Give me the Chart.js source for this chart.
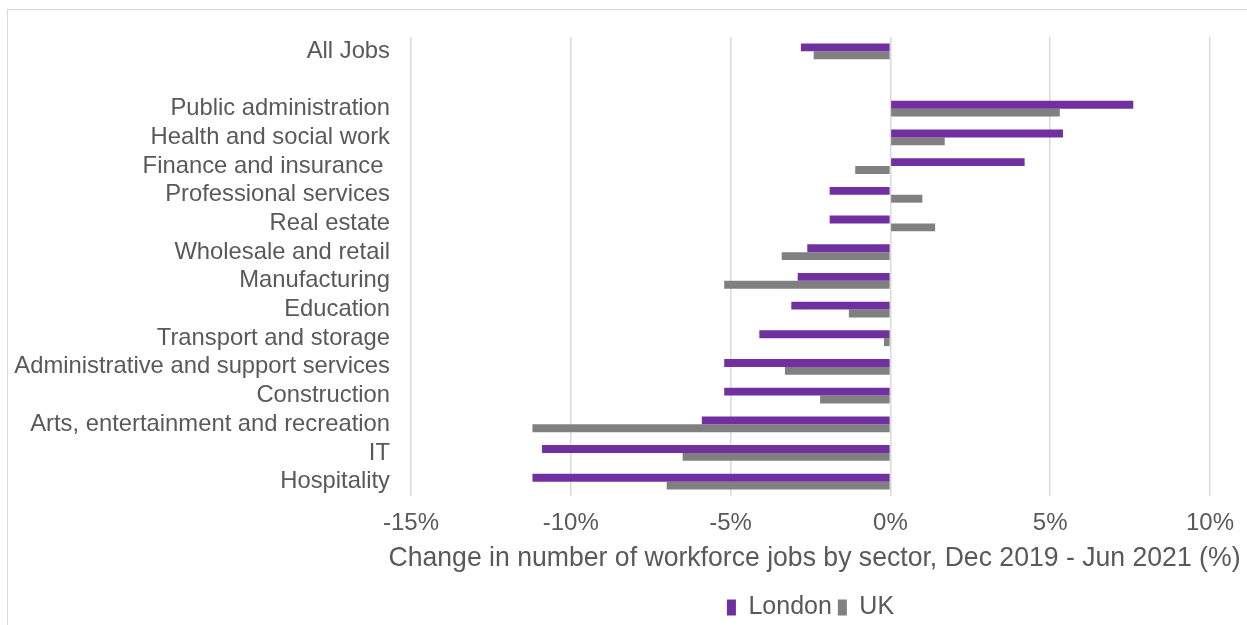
<!DOCTYPE html>
<html>
<head>
<meta charset="utf-8">
<script src="https://cdn.jsdelivr.net/npm/chart.js@4.4.0/dist/chart.umd.min.js"></script>
<style>
  body { margin: 0; background: #fff; overflow: hidden; }
  #wrap { position: relative; width: 1247px; height: 625px; }
  #frame { position: absolute; left: 7px; top: 9px; width: 1260px; height: 640px; border: 1px solid #d9d9d9; }
  canvas { position: absolute; left: 0; top: 0; }
</style>
</head>
<body>
<div id="wrap">
  <div id="frame"></div>
  <canvas id="myChart" width="1247" height="625"></canvas>
</div>
<script>
// sectors, top to bottom (blank row separates All Jobs)
const sectors = ["All Jobs", "", "Public administration", "Health and social work", "Finance and insurance ",
  "Professional services", "Real estate", "Wholesale and retail", "Manufacturing", "Education",
  "Transport and storage", "Administrative and support services", "Construction",
  "Arts, entertainment and recreation", "IT", "Hospitality"];

// % change Dec 2019 - Jun 2021
const london = [-2.8, null, 7.6, 5.4, 4.2, -1.9, -1.9, -2.6, -2.9, -3.1, -4.1, -5.2, -5.2, -5.9, -10.9, -11.2];
const uk = [-2.4, null, 5.3, 1.7, -1.1, 1.0, 1.4, -3.4, -5.2, -1.3, -0.2, -3.3, -2.2, -11.2, -6.5, -7.0];

const xTicks = [-15, -10, -5, 0, 5, 10];
const xTitle = "Change in number of workforce jobs by sector, Dec 2019 - Jun 2021 (%)";

const txt = "#595959";
const fam = "'Liberation Sans', Arial, sans-serif";

// center the legend under the plot area instead of the whole canvas
const legendUnderPlot = {
  id: "legendUnderPlot",
  afterLayout(c) {
    c.legend.left = c.chartArea.left;
    c.legend.right = c.chartArea.right;
  }
};

// axis title drawn by hand so it can run a little past the plot edges
const wideTitle = {
  id: "wideTitle",
  afterDraw(c) {
    const a = c.chartArea;
    const g = c.ctx;
    g.save();
    g.font = "28px " + fam;
    g.fillStyle = txt;
    g.textAlign = "center";
    g.textBaseline = "middle";
    g.fillText(xTitle, (a.left + a.right) / 2 + 4, a.bottom + 62, 852);
    g.restore();
  }
};

let ctx = document.getElementById("myChart");
let chart = new Chart(ctx, {
  type: "bar",
  data: {
    labels: sectors,
    datasets: [
      {
        label: "London",
        data: london,
        backgroundColor: "#7030a0",
        borderWidth: 0,
        categoryPercentage: 0.55,
        barPercentage: 1
      },
      {
        label: "UK",
        data: uk,
        backgroundColor: "#808080",
        borderWidth: 0,
        categoryPercentage: 0.55,
        barPercentage: 1
      }
    ]
  },
  options: {
    indexAxis: "y",
    responsive: false,
    animation: false,
    layout: { padding: { top: 37, right: 37, left: 0, bottom: -5 } },
    plugins: {
      tooltip: { enabled: false },
      legend: {
        position: "bottom",
        labels: {
          color: txt,
          font: { family: fam, size: 25 },
          boxWidth: 9,
          boxHeight: 16,
          padding: 6
        }
      }
    },
    scales: {
      x: {
        min: -15,
        max: 10,
        afterBuildTicks: (s) => { s.ticks = xTicks.map(v => ({ value: v })); },
        afterFit: (s) => { s.height = 93; },
        grid: { color: "#d9d9d9", lineWidth: 1.5, drawTicks: false },
        border: { display: false },
        ticks: {
          color: txt,
          font: { family: fam, size: 24 },
          padding: 13,
          callback: (v) => v + "%"
        },
        title: { display: false }
      },
      y: {
        grid: { display: false, drawTicks: false },
        border: { display: false },
        afterFit: (s) => { s.width = 411; },
        ticks: {
          autoSkip: false,
          color: txt,
          font: { family: fam, size: 23.8 },
          padding: 21
        }
      }
    }
  },
  plugins: [legendUnderPlot, wideTitle]
});
</script>
</body>
</html>
